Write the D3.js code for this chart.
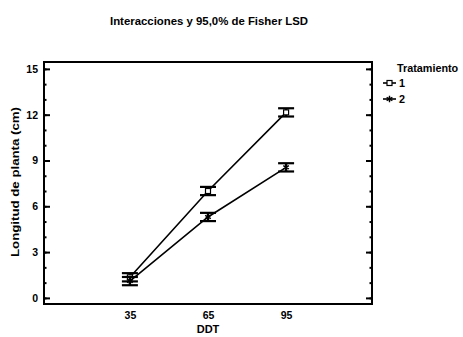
<!DOCTYPE html>
<html><head><meta charset="utf-8">
<script src="https://cdn.jsdelivr.net/npm/d3@7"></script>
<style>
body{margin:0;background:#fff;}
text{font-family:"Liberation Sans",Arial,sans-serif;font-weight:bold;fill:#000;}
</style></head>
<body><svg id="c" width="463" height="337"></svg>
<script>
const categories = [35, 65, 95];
const series1 = [1.35, 7.0, 12.15];
const series2 = [1.1, 5.3, 8.55];
const lsdHalf = [0.27, 0.27, 0.27];
const yTicks = [0, 3, 6, 9, 12, 15];
const yMinor = [0,1,2,3,4,5,6,7,8,9,10,11,12,13,14,15];
const seriesNames = ["1", "2"];

const svg = d3.select("#c");
const L = 44, R = 372, T = 62, B = 304;
const x = d3.scaleLinear().domain([2, 128]).range([L, R]);
const y = d3.scaleLinear().domain([-0.4, 15.45]).range([B, T]);

svg.append("text").attr("x", 209).attr("y", 25).attr("text-anchor", "middle")
  .attr("font-size", 11.4).attr("textLength", 198).attr("lengthAdjust", "spacingAndGlyphs")
  .text("Interacciones y 95,0% de Fisher LSD");

// frame
svg.append("rect").attr("x", L).attr("y", T).attr("width", R - L).attr("height", B - T)
  .attr("fill", "none").attr("stroke", "#000").attr("stroke-width", 2);

const fontAttrs = sel => sel.attr("font-size", 10.5).attr("font-family", "Liberation Sans, Arial, sans-serif").attr("font-weight", "bold").attr("fill", "#000");

// left axis
const gl = svg.append("g").attr("transform", `translate(${L},0)`);
gl.call(d3.axisLeft(y).tickValues(yMinor).tickSize(-2.5).tickFormat(""));
gl.select(".domain").remove();
const glm = svg.append("g").attr("transform", `translate(${L},0)`);
glm.call(d3.axisLeft(y).tickValues(yTicks).tickSize(-6).tickPadding(6).tickFormat(d3.format("d")));
glm.select(".domain").remove();
glm.selectAll("line").attr("stroke-width", 2);
gl.selectAll("line").attr("stroke-width", 2);
fontAttrs(glm.selectAll("text"));

// right axis
const gr = svg.append("g").attr("transform", `translate(${R},0)`);
gr.call(d3.axisRight(y).tickValues(yMinor).tickSize(-2.5).tickFormat(""));
gr.select(".domain").remove();
const grm = svg.append("g").attr("transform", `translate(${R},0)`);
grm.call(d3.axisRight(y).tickValues(yTicks).tickSize(-6).tickFormat(""));
grm.select(".domain").remove();
gr.selectAll("line").attr("stroke-width", 2);
grm.selectAll("line").attr("stroke-width", 2);

// x axis labels
const gx = svg.append("g").attr("transform", `translate(0,${B})`);
gx.call(d3.axisBottom(x).tickValues(categories).tickSize(0).tickPadding(8).tickFormat(d3.format("d")));
gx.select(".domain").remove();
fontAttrs(gx.selectAll("text"));

svg.append("text").attr("x", 208).attr("y", 333).attr("text-anchor", "middle")
  .attr("font-size", 11).text("DDT");
svg.append("text").attr("transform", "translate(19,182) rotate(-90)").attr("text-anchor", "middle")
  .attr("font-size", 11.5).attr("textLength", 150).attr("lengthAdjust", "spacingAndGlyphs")
  .text("Longitud de planta (cm)");

const data = [series1, series2];
const line = d3.line().x((d, i) => x(categories[i])).y(d => y(d));
data.forEach((s, k) => {
  svg.append("path").attr("d", line(s)).attr("fill", "none").attr("stroke", "#000").attr("stroke-width", 1.6);
  s.forEach((v, i) => {
    const cx = x(categories[i]);
    const g = svg.append("g");
    g.append("line").attr("x1", cx).attr("x2", cx).attr("y1", y(v - lsdHalf[i])).attr("y2", y(v + lsdHalf[i])).attr("stroke", "#000").attr("stroke-width", 2.5);
    [v - lsdHalf[i], v + lsdHalf[i]].forEach(e => g.append("line").attr("x1", cx - 8).attr("x2", cx + 8).attr("y1", y(e)).attr("y2", y(e)).attr("stroke", "#000").attr("stroke-width", 2.2));
    drawMarker(g, k, cx, y(v));
  });
});

function drawMarker(g, k, cx, cy) {
  if (k === 0) {
    g.append("rect").attr("x", cx - 2.5).attr("y", cy - 2.5).attr("width", 5).attr("height", 5).attr("fill", "#fff").attr("stroke", "#000").attr("stroke-width", 1.2);
  } else {
    g.append("path").attr("d", d3.symbol(d3.symbolAsterisk, 30)()).attr("transform", `translate(${cx},${cy})`).attr("fill", "none").attr("stroke", "#000").attr("stroke-width", 1.4);
  }
}

// legend
svg.append("text").attr("x", 397).attr("y", 72).attr("font-size", 10.8).text("Tratamiento");
seriesNames.forEach((n, k) => {
  const ly = 83 + k * 16;
  const g = svg.append("g");
  g.append("line").attr("x1", 383).attr("x2", 396).attr("y1", ly).attr("y2", ly).attr("stroke", "#000").attr("stroke-width", 1.6);
  drawMarker(g, k, 389.5, ly);
  svg.append("text").attr("x", 399).attr("y", ly + 4).attr("font-size", 10.8).text(n);
});
</script></body></html>
